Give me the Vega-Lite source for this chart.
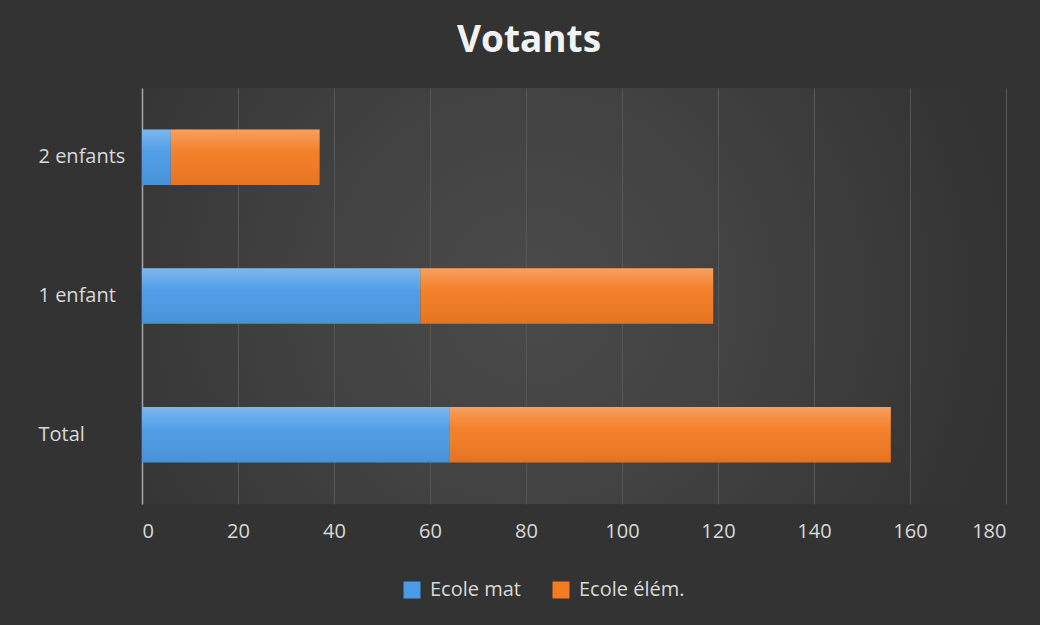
{
  "$schema": "https://vega.github.io/schema/vega-lite/v6.json",
  "autosize": "none",
  "width": 864,
  "height": 416,
  "padding": {"left": 142, "top": 88, "right": 34, "bottom": 121},
  "background": "#333333",
  "config": {
    "font": "Open Sans",
    "view": {
      "stroke": null,
      "fill": {
        "gradient": "radial",
        "x1": 0.45, "y1": 0.5, "r1": 0,
        "x2": 0.45, "y2": 0.5, "r2": 0.55,
        "stops": [
          {"offset": 0, "color": "#4a4a4a"},
          {"offset": 0.5, "color": "#414141"},
          {"offset": 0.9, "color": "#363636"},
          {"offset": 1, "color": "#333333"}
        ]
      }
    }
  },
  "title": {
    "text": "Votants",
    "fontSize": 37,
    "fontWeight": "bold",
    "color": "#f2f2f2",
    "font": "Open Sans",
    "anchor": "middle",
    "dx": -45,
    "offset": 28
  },
  "data": {
    "values": [
      {"categorie": "2 enfants", "ecole": "Ecole mat", "ord": 1, "votants": 6},
      {"categorie": "2 enfants", "ecole": "Ecole élém.", "ord": 2, "votants": 31},
      {"categorie": "1 enfant", "ecole": "Ecole mat", "ord": 1, "votants": 58},
      {"categorie": "1 enfant", "ecole": "Ecole élém.", "ord": 2, "votants": 61},
      {"categorie": "Total", "ecole": "Ecole mat", "ord": 1, "votants": 64},
      {"categorie": "Total", "ecole": "Ecole élém.", "ord": 2, "votants": 92}
    ]
  },
  "encoding": {
    "y": {
      "field": "categorie",
      "type": "nominal",
      "sort": ["2 enfants", "1 enfant", "Total"],
      "scale": {"paddingInner": 0.6, "paddingOuter": 0.3},
      "axis": {
        "title": null,
        "labelAlign": "left",
        "labelPadding": 104,
        "labelFontSize": 20,
        "labelColor": "#d9d9d9",
        "labelFont": "Open Sans",
        "ticks": false,
        "domainColor": "#a6a6a6",
        "domainWidth": 1.5,
        "grid": false
      }
    },
    "x": {
      "field": "votants",
      "type": "quantitative",
      "aggregate": "sum",
      "stack": "zero",
      "scale": {"domain": [0, 180], "nice": false},
      "axis": {
        "title": null,
        "values": [0, 20, 40, 60, 80, 100, 120, 140, 160, 180],
        "labelFontSize": 20,
        "labelColor": "#d9d9d9",
        "labelFont": "Open Sans",
        "labelPadding": 17,
        "ticks": false,
        "domain": false,
        "grid": true,
        "gridColor": "#575757",
        "gridWidth": 1
      }
    },
    "order": {"field": "ord", "type": "quantitative"}
  },
  "layer": [
    {
      "mark": {"type": "bar"},
      "encoding": {
        "color": {
          "field": "ecole",
          "type": "nominal",
          "scale": {"domain": ["Ecole mat", "Ecole élém."], "range": ["#4b9be6", "#f37b22"]},
          "legend": {
            "title": null,
            "orient": "none",
            "legendX": 260,
            "legendY": 492,
            "direction": "horizontal",
            "symbolType": "square",
            "symbolSize": 289,
            "symbolStrokeWidth": 0,
            "labelFontSize": 20,
            "labelColor": "#d9d9d9",
            "labelFont": "Open Sans",
            "labelOffset": 8,
            "columnPadding": 30,
            "padding": 0
          }
        }
      }
    },
    {
      "mark": {
        "type": "bar",
        "fill": {
          "gradient": "linear",
          "x1": 0, "y1": 0, "x2": 0, "y2": 1,
          "stops": [
            {"offset": 0, "color": "rgba(255,255,255,0.28)"},
            {"offset": 0.4, "color": "rgba(255,255,255,0.04)"},
            {"offset": 1, "color": "rgba(0,0,0,0.06)"}
          ]
        }
      },
      "encoding": {
        "detail": {"field": "ecole", "type": "nominal"}
      }
    }
  ]
}
